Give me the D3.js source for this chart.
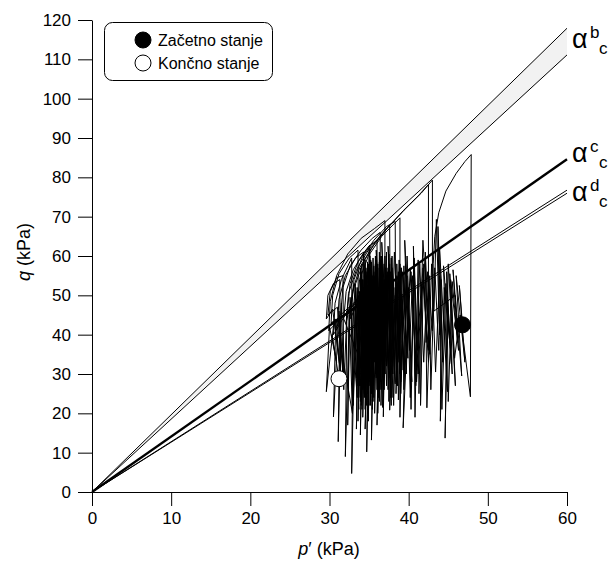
<!DOCTYPE html>
<html><head><meta charset="utf-8">
<script src="https://cdn.jsdelivr.net/npm/d3@7"></script>
<style>
body{margin:0;background:#fff}
svg{display:block}
text{font-family:"Liberation Sans",Arial,sans-serif;fill:#000}
</style>
</head><body>
<svg id="chart" width="611" height="561"></svg>
<script>
// ---------- data ----------
const xTicks = [0, 10, 20, 30, 40, 50, 60];
const xMinorTicks = [5, 15, 25, 35, 45, 55];
const yTicks = [0, 10, 20, 30, 40, 50, 60, 70, 80, 90, 100, 110, 120];
const yMinorTicks = [5, 15, 25, 35, 45, 55, 65, 75, 85, 95, 105, 115];
const envelopeLabels = ["b", "c", "d"];
const bandSlopes = [1.965, 1.852];      // α^b_c band (upper, lower) q/p'
const csSlope = 1.41;                   // α^c_c
const dSlopes = [1.279, 1.266];         // α^d_c double line
const pMax = 60;
const initialState = [46.8, 42.5];
const finalState = [31.2, 28.8];
const legendLabels = ["Začetno stanje", "Končno stanje"];

const stressPath = [
[46.8,42.5],[46.4,52.5],[47.1,33.0],[46.0,55.0],[46.7,29.5],[45.6,56.5],[46.2,38.0],[45.3,54.0],[45.9,27.0],[45.0,58.0],[44.6,13.7],[44.9,50.0],[45.4,32.5],[44.4,57.5],[44.9,25.5],[43.9,62.0],[44.3,33.0],[43.7,67.5],[43.9,40.0],[43.5,69.3],[43.2,46.0],
[45.9,50.0],[46.3,36.0],[45.5,53.5],[45.0,23.0],[44.8,56.0],[45.2,38.0],[44.5,52.0],[44.0,18.0],[44.1,54.0],[43.8,36.0],[43.3,57.0],[42.8,26.0],[42.6,55.0],[42.2,38.0],[41.9,58.0],[41.5,22.0],[41.6,53.0],[41.1,36.0],[40.7,59.5],[40.3,21.0],[40.0,52.0],[39.7,30.0],[39.4,57.5],[38.9,19.0],[38.8,55.0],
[39.5,30.0],[40.3,56.0],[41.0,28.0],[41.8,57.0],[42.5,33.0],[43.1,47.0],
[43.1,58.0],[43.3,65.0],[43.8,71.0],[44.7,76.5],[46.0,81.0],[47.1,84.0],[47.9,85.8],
[47.8,24.2],
[46.5,45.0],[45.8,34.0],[45.2,55.5],[45.5,30.0],[44.7,53.0],[44.2,21.0],[43.9,55.0],[43.4,30.5],[42.9,58.0],[42.3,21.4],[42.1,61.0],[42.7,35.0],[41.8,64.0],[41.3,25.0],[41.2,59.0],[40.8,19.0],[40.6,62.5],[41.0,31.0],[40.2,57.0],[39.3,16.3],[39.8,60.0],[40.4,28.0],[39.5,64.0],[39.9,34.0],[39.2,56.0],
[38.7,23.4],[38.5,58.0],[38.9,30.0],[38.2,61.0],[37.6,20.8],[37.9,55.0],[38.3,27.5],[37.4,62.5],[37.8,33.0],[37.1,57.0],[36.8,19.1],[37.0,60.0],[37.5,29.0],[36.6,63.5],[37.0,36.0],[36.4,55.0],[36.0,17.0],[36.3,58.5],[36.8,26.0],[35.9,61.5],[36.2,31.0],[35.6,56.0],[35.3,13.2],[35.7,53.0],[36.1,24.0],[35.2,59.0],[35.7,33.0],[35.0,62.0],[34.7,10.2],[35.1,51.0],[35.5,27.0],[34.6,57.0],[35.0,22.0],[34.3,61.0],[34.8,35.0],[34.2,54.0],[33.9,14.5],[34.2,50.5],[34.8,25.5],[33.9,57.0],[34.4,30.0],
[33.6,30.0],[33.9,55.0],[34.2,26.0],[34.5,59.0],[34.9,31.0],[35.1,56.5],[35.5,23.0],[35.8,58.0],[36.1,33.0],[36.5,60.0],[36.8,25.0],[37.1,56.0],[37.5,31.0],[37.8,59.5],[38.1,22.0],[38.5,55.0],[38.8,33.0],[39.1,57.0],[39.4,26.0],[39.7,54.0],
[39.2,38.0],[38.9,58.0],[38.6,27.0],[38.3,50.0],[38.0,30.0],[37.7,56.0],[37.4,26.0],[37.2,61.0],[36.9,29.0],[36.6,54.0],[36.3,23.0],[36.1,57.0],[35.8,30.0],[35.6,53.0],[35.3,27.0],[35.1,60.0],[34.8,25.0],[34.6,55.0],[34.3,31.0],[34.1,58.0],[33.8,27.0],[33.5,52.0],
[33.5,47.0],[33.8,54.0],[34.9,60.0],[36.6,65.0],[38.9,69.7],[38.9,32.0],
[38.3,52.0],[37.9,24.0],[37.6,58.0],[37.2,27.0],[36.9,54.0],[36.5,22.0],[36.7,57.0],[36.2,35.0],[35.8,60.0],[35.4,21.0],[35.6,55.0],[35.9,29.0],[35.3,58.5],[34.9,18.0],[35.2,53.0],[35.6,37.0],[34.8,56.0],[34.4,24.0],[34.6,52.0],
[33.0,46.0],[33.3,53.0],[34.3,58.5],[35.8,63.5],[37.6,67.9],[37.7,30.0],
[37.3,56.0],[36.9,26.0],[36.6,60.0],[36.4,28.0],[36.0,56.5],[35.7,20.0],[35.9,59.0],[35.5,31.0],[35.0,55.0],[34.5,16.0],[34.9,58.0],[35.2,34.0],[34.4,55.0],[34.0,22.0],[34.3,51.0],
[32.6,44.0],[32.9,51.0],[33.8,57.0],[35.3,62.0],[37.2,66.8],[39.4,71.6],[41.6,76.0],[43.0,79.3],[43.0,41.0],
[42.4,56.0],[41.9,33.0],[41.4,58.0],[40.9,27.0],[40.5,55.0],[40.1,36.0],[39.6,58.0],[39.0,25.0],[38.7,56.0],[38.2,32.0],[37.9,60.0],[37.5,23.0],[37.3,55.0],[36.9,37.0],[36.5,59.0],[36.1,20.0],[36.4,56.0],[36.0,30.0],[35.6,57.5],[35.3,25.0],[35.5,52.0],[35.0,30.0],[34.6,56.0],[34.2,19.0],[34.5,50.0],
[32.2,45.0],[32.6,53.0],[33.6,58.5],[35.0,62.5],[36.0,64.0],[36.1,28.0],
[35.7,54.0],[35.4,23.0],[35.1,57.0],[34.8,29.0],[34.4,54.0],[34.1,21.0],[34.3,49.0],[34.9,32.0],[34.0,55.0],[33.6,18.0],[33.8,50.0],
[32.8,47.0],[33.1,54.0],[34.1,59.5],[35.6,64.0],[37.2,67.5],[38.3,68.8],[38.4,28.0],
[39.3,50.0],[39.0,28.0],[38.8,59.0],[38.4,25.0],[38.6,53.0],[38.1,35.0],[37.9,57.0],[37.7,24.0],[37.5,60.5],[37.2,32.0],[37.1,55.0],[36.7,21.5],[36.9,58.0],[36.6,34.0],[36.3,61.0],[36.0,26.0],[36.2,52.0],[35.8,36.0],[35.5,59.5],[35.2,24.0],[35.4,55.0],[35.0,34.0],[34.8,58.5],[34.5,21.0],[34.7,52.5],[34.2,33.0],[34.0,56.0],[33.7,24.0],[33.8,51.0],[33.4,29.0],[33.2,53.0],
[32.1,43.0],[32.4,50.5],[33.4,56.5],[35.0,61.8],[37.0,66.5],[39.3,71.5],[41.3,75.5],[42.5,78.2],[42.5,36.0],
[41.8,54.0],[41.2,30.0],[40.7,57.0],[40.2,24.0],[39.8,55.0],[39.3,31.0],[38.9,57.0],[38.5,27.0],[38.1,54.0],[37.8,22.0],[37.4,57.0],[37.0,30.0],[36.7,53.0],[36.3,25.0],[36.1,58.0],[35.8,33.0],[35.4,54.0],[35.0,27.0],[34.7,52.0],[34.3,29.0],[34.1,50.0],
[31.4,45.0],[31.7,52.0],[32.6,57.5],[34.0,61.5],[35.4,64.5],[36.4,66.0],[36.5,26.0],
[36.0,50.0],[35.6,24.0],[35.3,54.0],[35.0,28.0],
[31.8,44.0],[32.1,51.0],[33.0,56.5],[34.2,60.5],[35.1,62.8],[35.2,22.0],
[34.9,50.0],[34.5,26.0],[34.2,54.0],[33.9,23.0],[33.7,50.0],[33.4,16.0],[33.6,48.0],[34.0,30.0],[33.3,52.0],[32.9,20.0],
[31.0,42.0],[31.2,49.0],[32.0,55.0],[33.3,59.5],[34.3,61.0],[34.4,25.0],
[34.0,48.0],[33.6,27.0],[33.3,51.0],[32.8,4.7],[33.0,47.0],[33.5,24.0],[32.6,49.5],[32.3,17.0],[32.5,46.0],
[30.2,43.0],[30.4,50.0],[31.2,55.5],[32.5,59.5],[33.6,61.5],[33.7,21.0],[33.3,48.0],
[29.9,41.0],[30.1,48.5],[30.9,55.0],[32.3,60.5],[34.0,64.5],[35.7,67.0],[37.0,69.0],[37.0,30.0],
[36.6,52.0],[36.2,24.0],[35.9,55.0],[35.5,30.0],[35.1,50.0],[34.7,22.0],[34.4,52.0],[33.9,27.0],[33.5,49.0],[33.0,22.0],[32.7,47.5],
[30.5,40.0],[30.7,48.0],[31.5,54.0],[32.8,59.5],[32.9,20.0],
[32.5,45.0],[32.0,9.0],[32.2,46.0],[31.8,26.0],[31.5,48.0],[31.1,12.8],[31.3,45.0],[31.7,30.0],[31.0,47.0],
[29.8,45.0],[30.1,51.0],[30.9,54.5],[31.7,55.0],[31.8,28.0],
[31.2,46.0],[30.5,19.1],[30.8,44.0],[31.3,32.0],[30.4,46.5],
[29.6,44.0],[29.8,50.0],[30.5,53.0],[31.3,54.0],[31.4,30.0],
[30.6,44.0],[29.6,25.5],[30.0,42.0],[30.9,33.0],[30.3,40.0],[31.2,28.8]
];

// ---------- chart ----------
const svg = d3.select("#chart");
svg.append("rect").attr("width",611).attr("height",561).attr("fill","#fff");

const x = d3.scaleLinear().domain([0, 60]).range([92, 567]);
const y = d3.scaleLinear().domain([0, 120]).range([492, 20]);
const lineGen = d3.line().x(d=>x(d[0])).y(d=>y(d[1]));

// band α^b_c
const bandPts = [[0,0],[pMax,pMax*bandSlopes[0]],[pMax,pMax*bandSlopes[1]]];
svg.append("path").attr("d", lineGen(bandPts) + "Z")
  .attr("fill", "#f2f2f2").attr("stroke", "none");
bandSlopes.forEach(s=>{
  svg.append("path").attr("d", lineGen([[0,0],[pMax,pMax*s]]))
    .attr("stroke","#000").attr("stroke-width",1).attr("fill","none");
});
dSlopes.forEach(s=>{
  svg.append("path").attr("d", lineGen([[0,0],[pMax,pMax*s]]))
    .attr("stroke","#000").attr("stroke-width",1).attr("fill","none");
});
svg.append("path").attr("d", lineGen([[0,0],[pMax,pMax*csSlope]]))
  .attr("stroke","#000").attr("stroke-width",2.4).attr("fill","none");

// stress path
svg.append("path").attr("d", lineGen(stressPath))
  .attr("stroke","#000").attr("stroke-width",1).attr("fill","none");

// axes
const gx = svg.append("g").attr("transform","translate(0,492)");
gx.call(d3.axisBottom(x).tickValues(xMinorTicks).tickSize(7).tickSizeOuter(0).tickFormat(""));
gx.call(d3.axisBottom(x).tickValues(xTicks).tickSize(14).tickSizeOuter(0).tickPadding(6).tickFormat(d3.format("d")));
const gy = svg.append("g").attr("transform","translate(92,0)");
gy.call(d3.axisLeft(y).tickValues(yMinorTicks).tickSize(7).tickSizeOuter(0).tickFormat(""));
gy.call(d3.axisLeft(y).tickValues(yTicks).tickSize(14).tickSizeOuter(0).tickPadding(7).tickFormat(d3.format("d")));
svg.selectAll(".tick text").attr("font-size",17).attr("font-family","'Liberation Sans',Arial,sans-serif");
svg.selectAll(".domain, .tick line").attr("stroke","#000").attr("stroke-width",1);

// axis titles
const xt = svg.append("text").attr("x",329).attr("y",555).attr("text-anchor","middle").attr("font-size",18);
xt.append("tspan").attr("font-style","italic").text("p");
xt.append("tspan").text("′ (kPa)");
const yt = svg.append("text").attr("transform","translate(30,252) rotate(-90)").attr("text-anchor","middle").attr("font-size",18);
yt.append("tspan").attr("font-style","italic").text("q");
yt.append("tspan").text(" (kPa)");

// envelope labels
const labelBase = [y(pMax*bandSlopes[0])+20, y(pMax*csSlope)+3, y(pMax*dSlopes[0])+11];
envelopeLabels.forEach((sup,i)=>{
  const b = labelBase[i];
  svg.append("text").attr("x",572).attr("y",b).attr("font-size",27).text("α");
  svg.append("text").attr("x",590).attr("y",b-10).attr("font-size",17).text(sup);
  svg.append("text").attr("x",599).attr("y",b+6).attr("font-size",17).text("c");
});

// state markers
svg.append("circle").attr("cx",x(initialState[0])).attr("cy",y(initialState[1])).attr("r",8)
  .attr("fill","#000").attr("stroke","#000");
svg.append("circle").attr("cx",x(finalState[0])).attr("cy",y(finalState[1])).attr("r",8)
  .attr("fill","#fff").attr("stroke","#000").attr("stroke-width",1);

// legend
const lg = svg.append("g");
lg.append("rect").attr("x",104.5).attr("y",22.5).attr("width",168).attr("height",58).attr("rx",8)
  .attr("fill","#fff").attr("stroke","#000").attr("stroke-width",1);
legendLabels.forEach((t,i)=>{
  lg.append("circle").attr("cx",143).attr("cy",40+i*23).attr("r",8)
    .attr("fill", i===0?"#000":"#fff").attr("stroke","#000");
  lg.append("text").attr("x",158).attr("y",46+i*23).attr("font-size",16).text(t);
});
</script>
</body></html>
